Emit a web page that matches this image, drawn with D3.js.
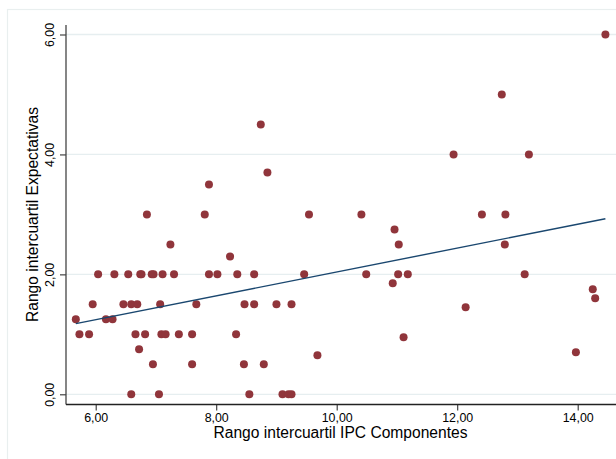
<!DOCTYPE html>
<html>
<head>
<meta charset="utf-8">
<script src="https://cdn.jsdelivr.net/npm/d3@7"></script>
<style>
  html, body { margin: 0; padding: 0; background: #fff; }
  svg { display: block; font-family: "Liberation Sans", Arial, sans-serif; }
</style>
</head>
<body>
<svg id="chart" width="616" height="459"></svg>
<script>
// Interquartile range of CPI components (x) vs. interquartile range of expectations (y)
const ipcRange = [
  6.04, 6.31, 6.54, 6.74, 6.76, 6.93, 6.96, 7.11, 7.30, 7.88, 8.02, 8.35, 8.63, 9.46, 10.49, 11.02, 11.18, 13.12,
  5.95, 6.46, 6.59, 6.69, 7.07, 7.67, 8.47, 8.63, 9.00, 9.25,
  5.67, 6.17, 6.28,
  5.73, 5.89, 6.66, 6.82, 7.09, 7.16, 7.38, 7.60, 8.33,
  6.72,
  6.95, 7.60, 8.46, 8.79,
  9.68,
  6.59, 7.05, 8.55, 9.10, 9.20, 9.25,
  7.24, 11.03, 12.79,
  8.23,
  6.85, 7.81, 9.54, 10.41, 12.41, 12.80,
  7.88, 8.85, 8.74,
  11.94, 13.19, 12.74, 14.46,
  10.96, 10.93, 12.14, 11.11, 13.97, 14.25, 14.29
];
const expRange = [
  2, 2, 2, 2, 2, 2, 2, 2, 2, 2, 2, 2, 2, 2, 2, 2, 2, 2,
  1.5, 1.5, 1.5, 1.5, 1.5, 1.5, 1.5, 1.5, 1.5, 1.5,
  1.25, 1.25, 1.25,
  1, 1, 1, 1, 1, 1, 1, 1, 1,
  0.75,
  0.5, 0.5, 0.5, 0.5,
  0.65,
  0, 0, 0, 0, 0, 0,
  2.5, 2.5, 2.5,
  2.3,
  3, 3, 3, 3, 3, 3,
  3.5, 3.7, 4.5,
  4, 4, 5, 6,
  2.75, 1.85, 1.45, 0.95, 0.70, 1.75, 1.60
];
const xTicks = [6, 8, 10, 12, 14];
const yTicks = [0, 2, 4, 6];
const xTitle = "Rango intercuartil IPC Componentes";
const yTitle = "Rango intercuartil Expectativas";

const points = ipcRange.map((x, i) => ({ x, y: expRange[i] }));

const svg = d3.select("#chart");
const fmt = v => d3.format(".2f")(v).replace(".", ",");

const x = d3.scaleLinear().domain([6, 14]).range([95.7, 577.7]);
const y = d3.scaleLinear().domain([0, 6]).range([394.3, 34.5]);

const axisX0 = 66, axisY0 = 404.5, plotTop = 25, plotRight = 616;

// outer graph region frame
svg.append("rect")
  .attr("x", 7.5).attr("y", 9.5).attr("width", 700).attr("height", 500)
  .attr("fill", "#fff").attr("stroke", "#e9efef").attr("stroke-width", 1.2);

// horizontal grid lines
svg.append("g").selectAll("line").data(yTicks).join("line")
  .attr("x1", axisX0).attr("x2", plotRight)
  .attr("y1", d => y(d)).attr("y2", d => y(d))
  .attr("stroke", "#e6eef0").attr("stroke-width", 1.3);

// fitted line (least squares)
const mx = d3.mean(points, d => d.x), my = d3.mean(points, d => d.y);
const slope = d3.sum(points, d => (d.x - mx) * (d.y - my)) / d3.sum(points, d => (d.x - mx) ** 2);
const intercept = my - slope * mx;
const [xmin, xmax] = d3.extent(points, d => d.x);

// scatter points
svg.append("g").selectAll("circle").data(points).join("circle")
  .attr("cx", d => x(d.x)).attr("cy", d => y(d.y)).attr("r", 4)
  .attr("fill", "#90353b");

svg.append("path")
  .datum([xmin, xmax].map(v => ({ x: v, y: intercept + slope * v })))
  .attr("d", d3.line().x(d => x(d.x)).y(d => y(d.y)))
  .attr("fill", "none").attr("stroke", "#1a476f").attr("stroke-width", 1.4);

// axes
const gx = svg.append("g").attr("transform", `translate(0,${axisY0})`)
  .call(d3.axisBottom(x).tickValues(xTicks).tickFormat(fmt).tickSize(6).tickPadding(3));
gx.select(".domain").remove();
gx.selectAll(".tick line").attr("stroke", "#333").attr("stroke-width", 1.1);
gx.selectAll(".tick text").attr("font-size", 12.4).attr("fill", "#000")
  .attr("font-family", "Liberation Sans, Arial, sans-serif");

const gy = svg.append("g").attr("transform", `translate(${axisX0},0)`)
  .call(d3.axisLeft(y).tickValues(yTicks).tickFormat(fmt).tickSize(6));
gy.select(".domain").remove();
gy.selectAll(".tick line").attr("stroke", "#333").attr("stroke-width", 1.1);
gy.selectAll(".tick text")
  .attr("x", null).attr("dy", null)
  .attr("transform", "translate(-12.5,0) rotate(-90)")
  .attr("text-anchor", "middle")
  .attr("font-size", 12.4).attr("fill", "#000")
  .attr("font-family", "Liberation Sans, Arial, sans-serif");

svg.append("line").attr("x1", axisX0).attr("x2", axisX0)
  .attr("y1", plotTop).attr("y2", axisY0)
  .attr("stroke", "#444").attr("stroke-width", 1.3);
svg.append("line").attr("x1", axisX0).attr("x2", plotRight)
  .attr("y1", axisY0).attr("y2", axisY0)
  .attr("stroke", "#222").attr("stroke-width", 1.3);

// axis titles
svg.append("text").attr("x", 340.5).attr("y", 438.3)
  .attr("text-anchor", "middle").attr("font-size", 15.6).attr("fill", "#000")
  .text(xTitle);
svg.append("text").attr("transform", "translate(38,214.5) rotate(-90)")
  .attr("text-anchor", "middle").attr("font-size", 15.6).attr("fill", "#000")
  .text(yTitle);
</script>
</body>
</html>
